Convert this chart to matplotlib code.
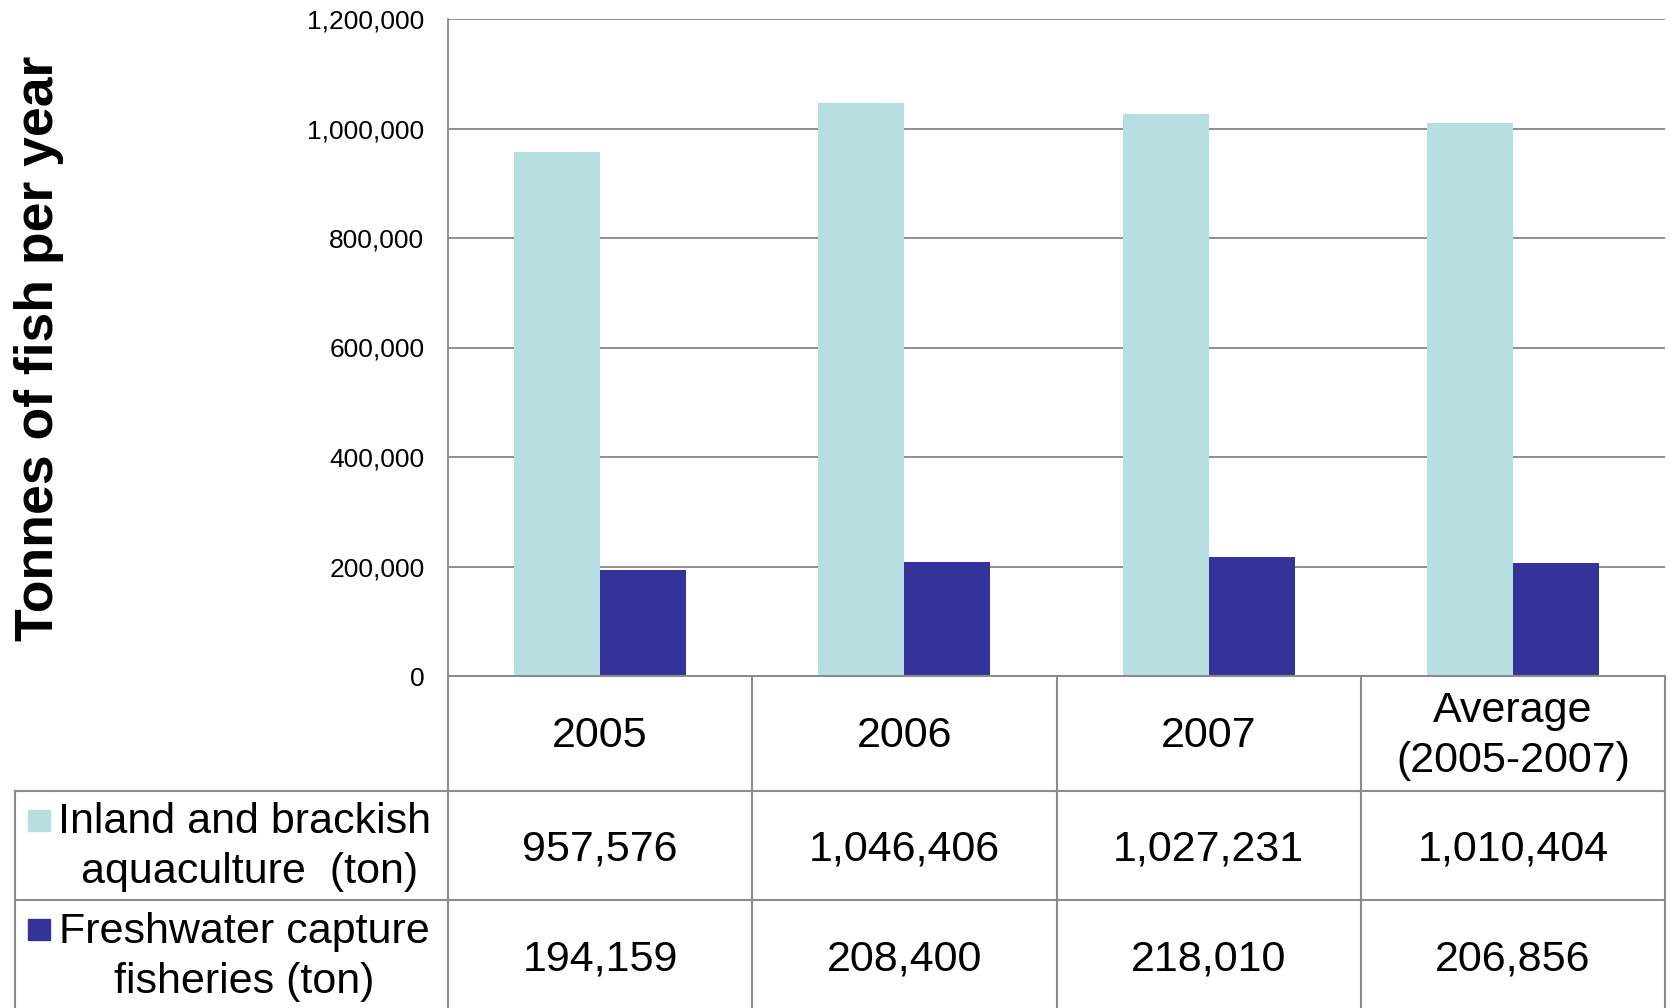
import matplotlib
matplotlib.use("Agg")
import matplotlib.pyplot as plt
import matplotlib.transforms as mtransforms
from matplotlib.patches import Rectangle
import numpy as np

plt.rcParams['font.family'] = ['Liberation Sans', 'DejaVu Sans']

# data
categorie = ['2005', '2006', '2007', 'Average\n(2005-2007)']
acquacoltura = [957576, 1046406, 1027231, 1010404]
pesca = [194159, 208400, 218010, 206856]
etichette_serie = ['Inland and brackish\n aquaculture  (ton)', 'Freshwater capture\nfisheries (ton)']
colori = ['#B7DFE1', '#333399']
y_ticks = [0, 200000, 400000, 600000, 800000, 1000000, 1200000]

W, H = 1671, 1008
fig = plt.figure(figsize=(W / 100, H / 100), dpi=100)

def fx(x):
    return x / W

def fy(y):
    return 1 - y / H

# area del grafico (pixel)
left, right, top, zero = 448, 1665, 19, 676
ax = fig.add_axes([fx(left), fy(zero), fx(right - left), (zero - top) / H])

x = np.arange(len(categorie))
w = 0.283
ax.bar(x - w / 2, acquacoltura, width=w, color=colori[0], zorder=3)
ax.bar(x + w / 2, pesca, width=w, color=colori[1], zorder=3)

ax.set_xlim(-0.5, len(categorie) - 0.5)
ax.set_ylim(0, 1200000)
ax.set_yticks(y_ticks)
ax.set_yticklabels([f'{v:,}' for v in y_ticks], fontsize=19)
ax.tick_params(axis='y', length=0, pad=17)
ax.set_xticks([])
ax.grid(axis='y', color='#878787', linewidth=1.3, zorder=0)
for s in ['top', 'right', 'bottom']:
    ax.spines[s].set_visible(False)
ax.spines['left'].set_color('#878787')
ax.spines['left'].set_linewidth(1.3)

fig.text(fx(39), fy(348), 'Tonnes of fish per year', rotation=90, fontsize=38.5,
         fontweight='bold', ha='center', va='center')

# --- tabella dati sotto il grafico ---
grigio = '#8c8c8c'
lw = 1.5
col_x = [448, 752, 1057, 1361, 1665]

def linea(x0, y0, x1, y1):
    fig.add_artist(plt.Line2D([fx(x0), fx(x1)], [fy(y0), fy(y1)], color=grigio,
                              linewidth=lw, transform=fig.transFigure))

linea(448, 676, 1665, 676)
linea(15, 791, 1665, 791)
linea(15, 900, 1665, 900)
for cx in col_x:
    linea(cx, 676, cx, 1008)
linea(15, 791, 15, 1008)

fs = 31
trans = mtransforms.blended_transform_factory(ax.transData, fig.transFigure)
for i, c in enumerate(categorie):
    fig.text(x[i], fy(736), c, transform=trans, ha='center', va='center',
             fontsize=fs, linespacing=1.3)
    fig.text(x[i], fy(849), f'{acquacoltura[i]:,}', transform=trans,
             ha='center', va='center', fontsize=fs)
    fig.text(x[i], fy(959), f'{pesca[i]:,}', transform=trans,
             ha='center', va='center', fontsize=fs)

# legenda nella tabella
centri_leg = [847, 957]
top_quadrati = [810, 919]
for lab, col, cy, qy in zip(etichette_serie, colori, centri_leg, top_quadrati):
    fig.text(fx(244), fy(cy), lab, ha='center', va='center', fontsize=fs,
             linespacing=1.3)
    fig.add_artist(Rectangle((fx(28), fy(qy + 21)), fx(22), 21 / H,
                             color=col, transform=fig.transFigure))

fig.savefig('out.png', dpi=100)
